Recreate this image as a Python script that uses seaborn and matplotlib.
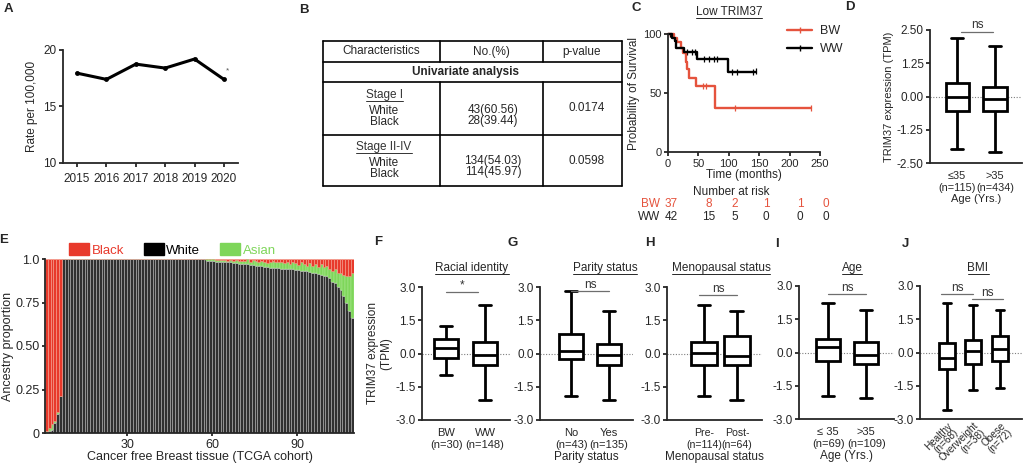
import numpy as np
import pandas as pd
import matplotlib
matplotlib.use('Agg')
import matplotlib.pyplot as plt
from matplotlib.lines import Line2D
from matplotlib.patches import Patch
import seaborn as sns

sns.set_style('ticks')
plt.rcParams['font.family'] = ['Liberation Sans', 'DejaVu Sans']
plt.rcParams['axes.linewidth'] = 1.3
plt.rcParams['xtick.major.width'] = 1.3
plt.rcParams['ytick.major.width'] = 1.3
plt.rcParams['xtick.major.size'] = 3
plt.rcParams['ytick.major.size'] = 3
plt.rcParams['xtick.labelsize'] = 8.5
plt.rcParams['ytick.labelsize'] = 8.5
plt.rcParams['axes.labelsize'] = 8.5
plt.rcParams['xtick.major.pad'] = 2
plt.rcParams['ytick.major.pad'] = 1.5

RED = '#e8392b'
KM_RED = '#e5533d'
GREEN = '#7ed65a'

# ---- A: incidence rate
years = [2015, 2016, 2017, 2018, 2019, 2020]
rate = [17.95, 17.4, 18.75, 18.4, 19.2, 17.4]

# ---- B: table
tbl_header = ['Characteristics', 'No.(%)', 'p-value']
stage1_n = ['43(60.56)', '28(39.44)']
stage1_p = '0.0174'
stage2_n = ['134(54.03)', '114(45.97)']
stage2_p = '0.0598'

# ---- C: Kaplan-Meier, low TRIM37
bw_time = [0, 10, 15, 21, 25, 29, 32, 35, 46, 78, 235]
bw_surv = [100, 97, 93, 88, 84, 76, 70, 63, 56, 37, 37]
bw_cens_t = [3, 6, 58, 63, 110, 235]
bw_cens_s = [100, 100, 56, 56, 37, 37]
ww_time = [0, 7, 11, 13, 26, 47, 98, 145]
ww_surv = [100, 97, 94, 88, 85, 79, 68, 68]
ww_cens_t = [3, 32, 40, 45, 59, 67, 75, 81, 106, 114, 139, 144]
ww_cens_s = [100, 85, 85, 85, 79, 79, 79, 79, 68, 68, 68, 69]
risk_bw = [37, 8, 2, 1, 1, 0]
risk_ww = [42, 15, 5, 0, 0, 0]

# ---- D: age, all samples
d_labels = ['≤35\n(n=115)', '>35\n(n=434)']
d_min = [-1.96, -2.09]
d_q1 = [-0.54, -0.54]
d_med = [-0.03, -0.09]
d_q3 = [0.52, 0.35]
d_max = [2.19, 1.88]

# ---- E: ancestry proportions per sample
white_prop = ([0.0, 0.01, 0.02, 0.06, 0.11, 0.21]
              + [1.0] * 51
              + [0.99, 0.99, 0.99, 0.985, 0.985, 0.98, 0.98, 0.98, 0.98, 0.975, 0.975, 0.97, 0.97]
              + [0.97, 0.97, 0.965, 0.965, 0.96, 0.96, 0.96, 0.955, 0.955, 0.95, 0.95, 0.95, 0.95, 0.945, 0.945]
              + [0.94, 0.94, 0.94, 0.935, 0.935, 0.93, 0.93, 0.93, 0.925, 0.92, 0.92, 0.915, 0.91, 0.905, 0.9]
              + [0.89, 0.87, 0.86, 0.84, 0.82, 0.79, 0.75, 0.7, 0.66])
asian_prop = ([0.01, 0.02, 0.03, 0.01, 0.01, 0.0]
              + [0.0] * 51
              + [0.01, 0.01, 0.01, 0.01, 0.01, 0.015, 0.015, 0.01, 0.015, 0.015, 0.02, 0.02, 0.02]
              + [0.02, 0.03, 0.02, 0.03, 0.03, 0.02, 0.03, 0.03, 0.02, 0.03, 0.04, 0.03, 0.03, 0.04, 0.03]
              + [0.04, 0.03, 0.04, 0.04, 0.03, 0.05, 0.04, 0.03, 0.05, 0.04, 0.05, 0.04, 0.06, 0.05, 0.06]
              + [0.05, 0.06, 0.08, 0.08, 0.1, 0.12, 0.15, 0.2, 0.26])

# ---- F-J: TRIM37 expression in cancer-free tissue (min, q1, median, q3, max)
f_labels = ['BW\n(n=30)', 'WW\n(n=148)']
f_min = [-0.96, -2.09]
f_q1 = [-0.22, -0.52]
f_med = [0.24, -0.05]
f_q3 = [0.66, 0.54]
f_max = [1.23, 2.2]

g_labels = ['No\n(n=43)', 'Yes\n(n=135)']
g_min = [-1.93, -2.1]
g_q1 = [-0.24, -0.54]
g_med = [0.13, -0.09]
g_q3 = [0.89, 0.43]
g_max = [2.8, 1.91]

h_labels = ['Pre-\n(n=114)', 'Post-\n(n=64)']
h_min = [-1.93, -2.08]
h_q1 = [-0.5, -0.54]
h_med = [0.02, -0.13]
h_q3 = [0.54, 0.77]
h_max = [2.2, 1.9]

i_labels = ['≤ 35\n(n=69)', '>35\n(n=109)']
i_min = [-1.94, -2.06]
i_q1 = [-0.4, -0.52]
i_med = [0.24, -0.13]
i_q3 = [0.63, 0.46]
i_max = [2.24, 1.9]

j_labels = ['Healthy\n(n=68)', 'Overweight\n(n=38)', 'Obese\n(n=72)']
j_min = [-2.6, -1.7, -1.58]
j_q1 = [-0.75, -0.5, -0.4]
j_med = [-0.25, 0.05, 0.17]
j_q3 = [0.43, 0.58, 0.74]
j_max = [2.24, 2.14, 1.9]

W, H = 1024, 471
fig = plt.figure(figsize=(W / 100, H / 100), dpi=100)


def add_ax(l, t, r, b):
    return fig.add_axes([l / W, 1 - b / H, (r - l) / W, (b - t) / H])


def box_panel(rect, labels, mins, q1s, meds, q3s, maxs, xlim, ylim, yticks, yfmt,
              width=0.62, xfs=8):
    ax = add_ax(*rect)
    rows = [(lab, v) for lab, *vals in zip(labels, mins, q1s, meds, q3s, maxs) for v in vals]
    df = pd.DataFrame(rows, columns=['group', 'value'])
    ax.axhline(0, color='#7f7f7f', ls=(0, (1, 1.5)), lw=0.8, zorder=0)
    sns.boxplot(data=df, x='group', y='value', order=labels, whis=(0, 100), width=width,
                color='white', linecolor='black', linewidth=2.0, fliersize=0, ax=ax)
    ax.set_xlim(*xlim)
    ax.set_ylim(*ylim)
    ax.set_yticks(yticks)
    ax.set_yticklabels([yfmt.format(t) for t in yticks])
    ax.set_xlabel('')
    ax.set_ylabel('')
    ax.tick_params(axis='x', length=0, pad=6, labelsize=xfs)
    sns.despine(ax=ax)
    return ax


def bracket(ax, x0, x1, y, label, fs=8.5):
    ax.plot([x0, x1], [y, y], color='#6e6e6e', lw=0.9, clip_on=False)
    ax.text((x0 + x1) / 2, y + 0.02, label, ha='center', va='bottom', fontsize=fs, color='#333333')


# ---- A
axA = add_ax(63, 50, 238, 163)
sns.lineplot(x=years, y=rate, ax=axA, color='black', lw=2.2, marker='o', markersize=3.5,
             markeredgewidth=0)
axA.set_xlim(2014.52, 2020.48)
axA.set_ylim(10, 20)
axA.set_xticks(years)
axA.set_yticks([10, 15, 20])
axA.tick_params(labelsize=8.5)
axA.tick_params(axis='x', pad=4)
axA.set_ylabel('Rate per 100,000', fontsize=8.5)
axA.text(2020.08, 18.0, '*', fontsize=6, color='#555555')
sns.despine(ax=axA)

# ---- C
axC = add_ax(668, 34, 820, 152)
sns.lineplot(x=bw_time, y=bw_surv, drawstyle='steps-post', color=KM_RED, lw=1.7, ax=axC)
sns.lineplot(x=ww_time, y=ww_surv, drawstyle='steps-post', color='black', lw=1.7, ax=axC)
sns.scatterplot(x=bw_cens_t, y=bw_cens_s, marker='|', s=16, color=KM_RED, linewidth=0.9, ax=axC)
sns.scatterplot(x=ww_cens_t, y=ww_cens_s, marker='|', s=16, color='black', linewidth=0.9, ax=axC)
for ln in axC.lines:
    ln.set_clip_on(False)
axC.set_xlim(0, 250)
axC.set_ylim(0, 100)
axC.set_xticks([0, 50, 100, 150, 200, 250])
axC.set_yticks([0, 50, 100])
axC.tick_params(labelsize=8)
axC.set_xlabel('Time (months)', fontsize=8.5, labelpad=0)
axC.set_ylabel('Probability of Survival', fontsize=8.5, labelpad=2)
sns.despine(ax=axC)
km_handles = [Line2D([0], [0], color=KM_RED, lw=1.7, marker='|', markersize=4),
              Line2D([0], [0], color='black', lw=1.7, marker='|', markersize=4)]
axC.legend(km_handles, ['BW', 'WW'], loc='upper left', bbox_to_anchor=(776 / W, 1 - 14 / H),
           bbox_transform=fig.transFigure, frameon=False, fontsize=9, handlelength=2.0,
           handletextpad=0.6, labelspacing=0.5)

# ---- D
axD = box_panel((930, 30, 1022, 163), d_labels, d_min, d_q1, d_med, d_q3, d_max,
                (-0.72, 1.71), (-2.5, 2.5), [-2.5, -1.25, 0, 1.25, 2.5], '{:.2f}', xfs=7.8)
axD.set_ylabel('TRIM37 expression (TPM)', fontsize=8, labelpad=2)
axD.set_xlabel('Age (Yrs.)', fontsize=8, labelpad=1)
bracket(axD, 0.1, 0.95, 2.44, 'ns')

# ---- E
axE = add_ax(45, 259, 354, 433)
idx = np.arange(1, len(white_prop) + 1)
black_prop = [1 - w - a for w, a in zip(white_prop, asian_prop)]
bottom2 = [w + a for w, a in zip(white_prop, asian_prop)]
axE.bar(idx, white_prop, width=1, align='edge', color='#303030', edgecolor='#a8a8a8', lw=0.45)
axE.bar(idx, asian_prop, bottom=white_prop, width=1, align='edge', color=GREEN,
        edgecolor='#b5eaa0', lw=0.3)
axE.bar(idx, black_prop, bottom=bottom2, width=1, align='edge', color=RED,
        edgecolor='#f4a090', lw=0.4)
axE.set_xlim(1, 110.1)
axE.set_ylim(0, 1)
axE.set_xticks([30, 60, 90])
axE.set_yticks([0, 0.25, 0.5, 0.75, 1.0])
axE.set_yticklabels(['0', '0.25', '0.50', '0.75', '1.0'])
axE.tick_params(labelsize=9, length=2.5)
axE.set_xlabel('Cancer free Breast tissue (TCGA cohort)', fontsize=9, labelpad=0)
axE.set_ylabel('Ancestry proportion', fontsize=9, labelpad=1)
sns.despine(ax=axE)
e_handles = [Patch(color=RED), Patch(color='black'), Patch(color=GREEN)]
legE = axE.legend(e_handles, ['Black', 'White', 'Asian'], loc='lower left', ncol=3,
                  bbox_to_anchor=(64 / W, 1 - 262 / H), bbox_transform=fig.transFigure,
                  frameon=False, fontsize=9.5, handlelength=1.5, handleheight=1.0,
                  handletextpad=0.2, columnspacing=1.5, borderaxespad=0)
for t, c in zip(legE.get_texts(), [RED, 'black', GREEN]):
    t.set_color(c)

# ---- F-J
ylo = (-3, 3)
yt = [-3, -1.5, 0, 1.5, 3]
axF = box_panel((422, 287, 510, 420), f_labels, f_min, f_q1, f_med, f_q3, f_max,
                (-0.62, 1.64), ylo, yt, '{:.1f}')
axF.set_ylabel('TRIM37 expression\n(TPM)', fontsize=8.5, labelpad=2)
bracket(axF, 0.0, 0.82, 2.77, '*')

axG = box_panel((540, 287, 633, 420), g_labels, g_min, g_q1, g_med, g_q3, g_max,
                (-0.82, 1.63), ylo, yt, '{:.1f}')
axG.set_xlabel('Parity status', fontsize=8.5, labelpad=1)
bracket(axG, 0.0, 1.0, 2.8, 'ns')

axH = box_panel((667, 287, 762, 420), h_labels, h_min, h_q1, h_med, h_q3, h_max,
                (-1.12, 1.76), ylo, yt, '{:.1f}', width=0.78, xfs=7.6)
axH.set_xlabel('Menopausal status', fontsize=8.5, labelpad=1)
bracket(axH, -0.15, 1.0, 2.62, 'ns')

axI = box_panel((799, 286, 894, 419), i_labels, i_min, i_q1, i_med, i_q3, i_max,
                (-0.77, 1.73), ylo, yt, '{:.1f}')
axI.set_xlabel('Age (Yrs.)', fontsize=8.5, labelpad=1)
bracket(axI, 0.0, 1.0, 2.62, 'ns')

axJ = box_panel((920, 286, 1022, 419), j_labels, j_min, j_q1, j_med, j_q3, j_max,
                (-1.0, 2.82), ylo, yt, '{:.1f}', width=0.6)
bracket(axJ, -0.2, 1.0, 2.62, 'ns')
bracket(axJ, 0.95, 2.1, 2.4, 'ns')
for lab in axJ.get_xticklabels():
    lab.set_rotation(45)
    lab.set_ha('right')
    lab.set_va('top')
    lab.set_rotation_mode('anchor')
    lab.set_fontsize(7.2)
    lab.set_linespacing(0.95)
axJ.tick_params(axis='x', pad=1)

# ---- overlay in pixel coordinates: table, panel letters, loose text
ov = fig.add_axes([0, 0, 1, 1], zorder=-1)
ov.set_xlim(0, W)
ov.set_ylim(H, 0)
ov.axis('off')

FS = 8.5
tx0, tx1 = 323, 622
c1, c2 = 440, 543
for y in [41, 62, 82, 135, 186]:
    ov.plot([tx0, tx1], [y, y], color='black', lw=1.2)
for x in [tx0, tx1]:
    ov.plot([x, x], [41, 186], color='black', lw=1.2)
for x in [c1, c2]:
    ov.plot([x, x], [41, 62], color='black', lw=1.2)
    ov.plot([x, x], [82, 186], color='black', lw=1.2)
col_x = [381, 491, 582]
for x, s in zip(col_x, tbl_header):
    ov.text(x, 51.5, s, ha='center', va='center', fontsize=FS)
ov.text(466, 72, 'Univariate analysis', ha='center', va='center', fontsize=FS, fontweight='bold')
underlined = []
underlined.append(ov.text(384, 95, 'Stage I', ha='center', va='center', fontsize=FS, color='#333333'))
ov.text(384, 111, 'White', ha='center', va='center', fontsize=FS)
ov.text(384, 122, 'Black', ha='center', va='center', fontsize=FS)
ov.text(493, 110, stage1_n[0], ha='center', va='center', fontsize=FS)
ov.text(493, 121, stage1_n[1], ha='center', va='center', fontsize=FS)
ov.text(587, 108, stage1_p, ha='center', va='center', fontsize=FS)
underlined.append(ov.text(384, 147, 'Stage II-IV', ha='center', va='center', fontsize=FS, color='#333333'))
ov.text(384, 163, 'White', ha='center', va='center', fontsize=FS)
ov.text(384, 174, 'Black', ha='center', va='center', fontsize=FS)
ov.text(493, 161, stage2_n[0], ha='center', va='center', fontsize=FS)
ov.text(493, 172, stage2_n[1], ha='center', va='center', fontsize=FS)
ov.text(587, 161, stage2_p, ha='center', va='center', fontsize=FS)

# C annotations
underlined.append(ov.text(729, 12, 'Low TRIM37', ha='center', va='center', fontsize=FS))
ov.text(680, 125, 'HR=2.085 (0820-5.303)', ha='left', va='center', fontsize=FS)
ov.text(680, 138, 'p=0.11', ha='left', va='center', fontsize=FS)
ov.text(731, 192, 'Number at risk', ha='center', va='center', fontsize=FS)
ov.text(660, 204, 'BW', ha='right', va='center', fontsize=FS, color=KM_RED)
ov.text(660, 217, 'WW', ha='right', va='center', fontsize=FS)
risk_x = [671, 709, 735, 766, 800, 826]
for x, a, b in zip(risk_x, risk_bw, risk_ww):
    ov.text(x, 204, str(a), ha='center', va='center', fontsize=FS, color=KM_RED)
    ov.text(x, 217, str(b), ha='center', va='center', fontsize=FS)

# panel titles
for x, s in [(472, 'Racial identity'), (605, 'Parity status'), (721, 'Menopausal status'),
             (852, 'Age'), (978, 'BMI')]:
    underlined.append(ov.text(x, 268, s, ha='center', va='center', fontsize=FS))

# panel letters
for x, y, s in [(8, 9, 'A'), (304, 10, 'B'), (636, 8, 'C'), (850, 7, 'D'), (4, 240, 'E'),
                (378, 242, 'F'), (513, 243, 'G'), (650, 243, 'H'), (777, 244, 'I'), (905, 244, 'J')]:
    ov.text(x, y, s, ha='center', va='center', fontsize=9.5, fontweight='bold')

fig.canvas.draw()
inv = ov.transData.inverted()
for t in underlined:
    bb = t.get_window_extent()
    (x0, y0), (x1, _) = inv.transform([[bb.x0, bb.y0], [bb.x1, bb.y1]])
    ov.plot([x0, x1], [y0 - 0.5, y0 - 0.5], color=t.get_color(), lw=0.7)

fig.savefig('out.png', dpi=100)
